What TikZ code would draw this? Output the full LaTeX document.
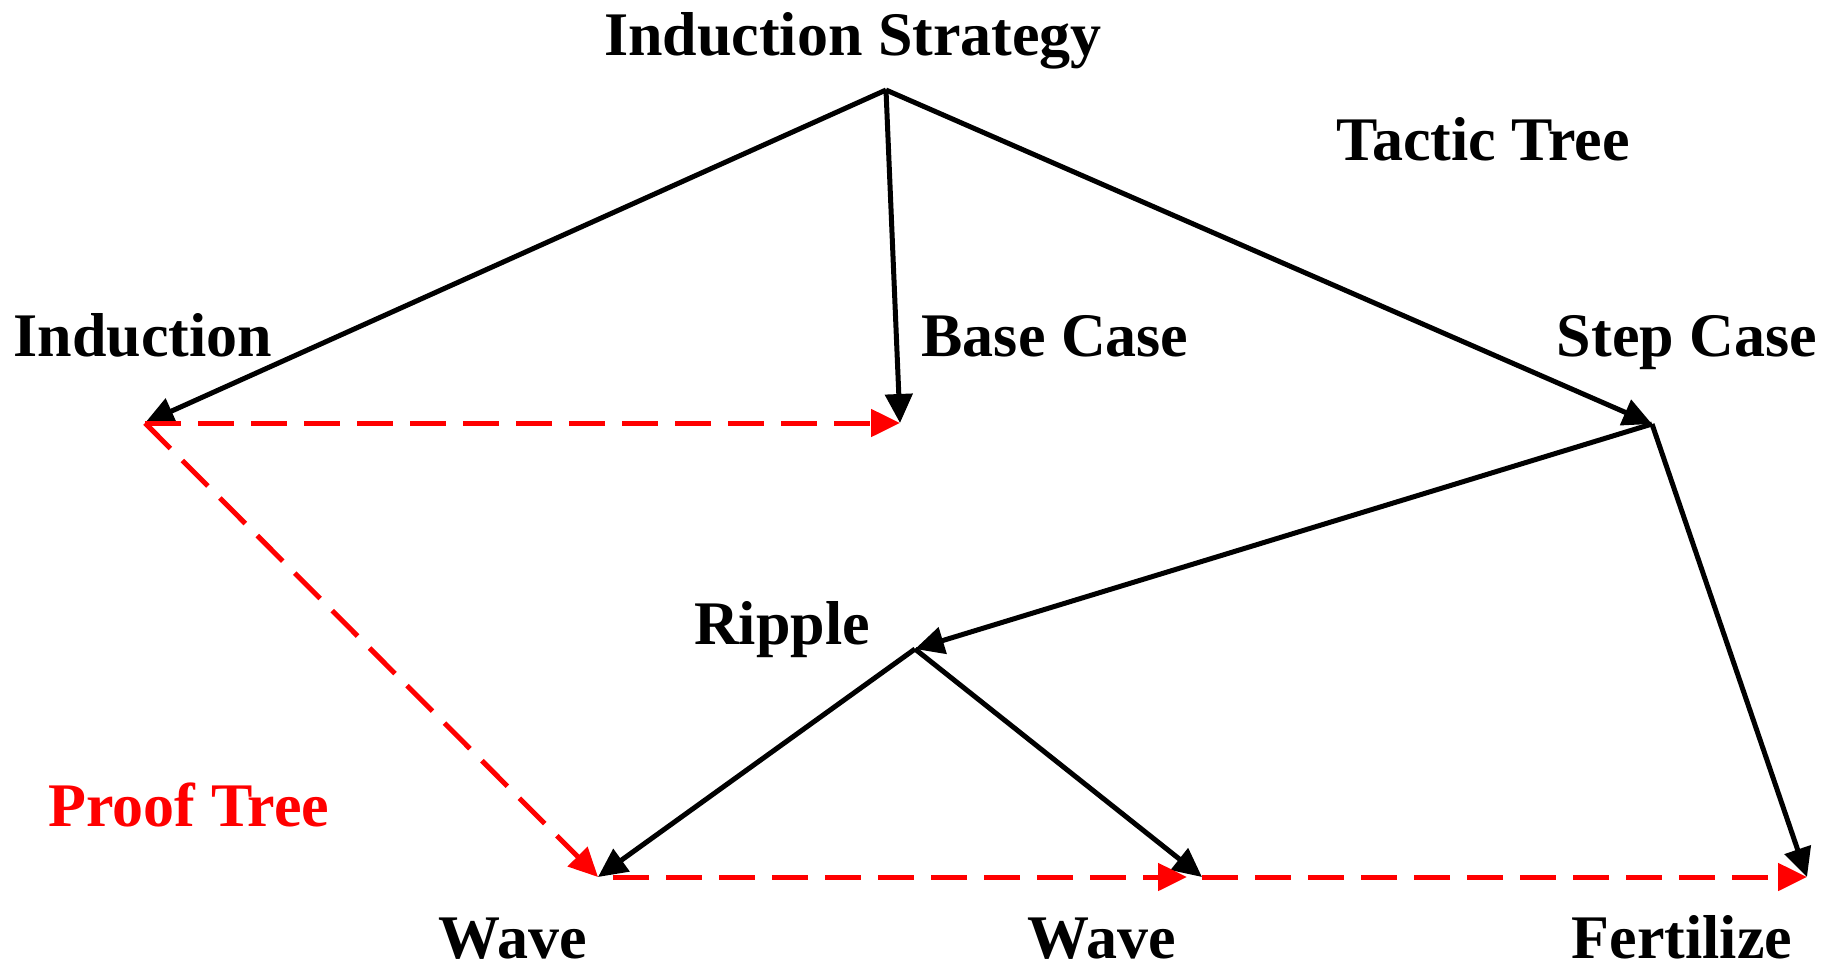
\documentclass[tikz,border=0pt]{standalone}
\usepackage{fontspec}
\setmainfont{Liberation Serif}
\usetikzlibrary{arrows.meta}
\definecolor{pred}{RGB}{255,0,0}
\begin{document}
\begin{tikzpicture}[x=1pt,y=-1pt,
  lbl/.style={font=\fontsize{62}{62}\selectfont\bfseries, anchor=base, inner sep=0pt},
  tac/.style={line width=5pt, -{Triangle[length=29pt,width=27pt]}},
  prf/.style={line width=5pt, draw=pred, dash pattern=on 36pt off 17pt, -{Triangle[length=29pt,width=27pt]}, pred}
]
\useasboundingbox (0,0) rectangle (1837,967);
% points
\coordinate (S) at (886,90);
\coordinate (I) at (145,423);
\coordinate (B) at (900,423);
\coordinate (C) at (1652,424);
\coordinate (R) at (915,649);
\coordinate (W1) at (598,877);
\coordinate (W2) at (1202,877);
\coordinate (F) at (1807,877);
% labels
\node[lbl] (tS) at (853,55) {Induction Strategy};
\node[lbl] (tT) at (1483,160) {Tactic Tree};
\node[lbl] (tI) at (143,356) {Induction};
\node[lbl] (tB) at (1055,356) {Base Case};
\node[lbl] (tC) at (1687,356) {Step Case};
\node[lbl] (tR) at (782,644) {Ripple};
\node[lbl, text=pred] (tP) at (189,826) {Proof Tree};
\node[lbl] (tW1) at (513,958) {Wave};
\node[lbl] (tW2) at (1102,958) {Wave};
\node[lbl] (tF) at (1682,958) {Fertilize};
% tactic tree
\draw[tac] (S) -- (I);
\draw[tac] (S) -- (B);
\draw[tac] (S) -- (C);
\draw[tac] (C) -- (R);
\draw[tac] (C) -- (F);
\draw[tac] (R) -- (W1);
\draw[tac] (R) -- (W2);
% proof tree
\draw[prf] (I) -- (B);
\draw[prf] (I) -- (W1);
\draw[prf, shorten <=15pt, shorten >=15pt] (W1) -- (W2);
\draw[prf] (W2) -- (F);
\end{tikzpicture}
\end{document}
